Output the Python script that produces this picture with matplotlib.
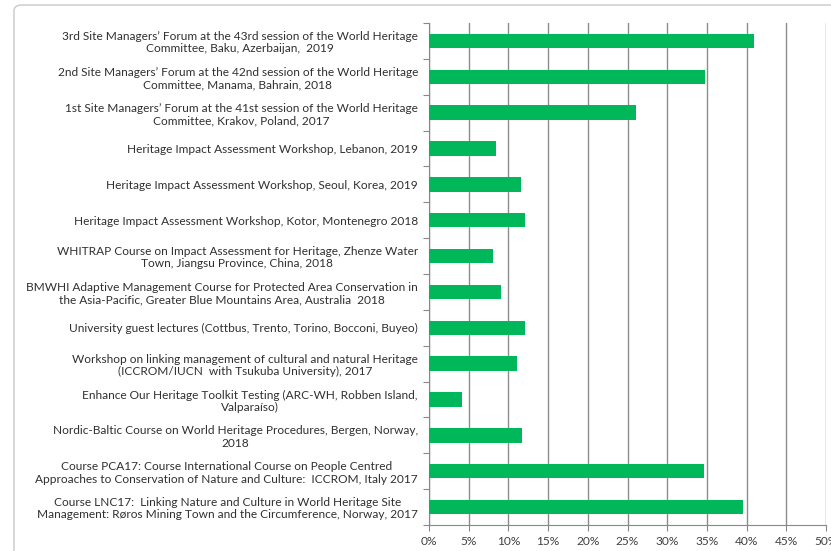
import matplotlib
matplotlib.use("Agg")
import matplotlib.pyplot as plt
from matplotlib.patches import FancyBboxPatch
from matplotlib.ticker import FuncFormatter, FixedLocator

categories = [
    "3rd Site Managers\u2019 Forum at the 43rd session of the World Heritage\nCommittee, Baku, Azerbaijan,  2019",
    "2nd Site Managers\u2019 Forum at the 42nd session of the World Heritage\nCommittee, Manama, Bahrain, 2018",
    "1st Site Managers\u2019 Forum at the 41st session of the World Heritage\nCommittee, Krakov, Poland, 2017",
    "Heritage Impact Assessment Workshop, Lebanon, 2019",
    "Heritage Impact Assessment Workshop, Seoul, Korea, 2019",
    "Heritage Impact Assessment Workshop, Kotor, Montenegro 2018",
    "WHITRAP Course on Impact Assessment for Heritage, Zhenze Water\nTown, Jiangsu Province, China, 2018",
    "BMWHI Adaptive Management Course for Protected Area Conservation in\nthe Asia-Pacific, Greater Blue Mountains Area, Australia  2018",
    "University guest lectures (Cottbus, Trento, Torino, Bocconi, Buyeo)",
    "Workshop on linking management of cultural and natural Heritage\n(ICCROM/IUCN  with Tsukuba University), 2017",
    "Enhance Our Heritage Toolkit Testing (ARC-WH, Robben Island,\nValpara\u00edso)",
    "Nordic-Baltic Course on World Heritage Procedures, Bergen, Norway,\n2018",
    "Course PCA17: Course International Course on People Centred\nApproaches to Conservation of Nature and Culture:  ICCROM, Italy 2017",
    "Course LNC17:  Linking Nature and Culture in World Heritage Site\nManagement: R\u00f8ros Mining Town and the Circumference, Norway, 2017",
]
values = [40.9, 34.7, 26.1, 8.4, 11.6, 12.1, 8.0, 9.1, 12.1, 11.1, 4.2, 11.7, 34.6, 39.5]
xticks = [0, 5, 10, 15, 20, 25, 30, 35, 40, 45, 50]

plt.rcParams['font.family'] = ['Lato', 'DejaVu Sans']

W, H = 831, 551
fig = plt.figure(figsize=(W / 100, H / 100), dpi=100)
fig.patch.set_facecolor('white')

# outer chart frame
frame = FancyBboxPatch((14 / W, -0.05), 1.2, 1.05 - 5 / H,
                       boxstyle="round,pad=0,rounding_size=0.01",
                       transform=fig.transFigure, facecolor='none',
                       edgecolor='#c8c8c8', linewidth=1.0, zorder=0)
fig.patches.append(frame)

left, right, top, bottom = 429, 826, 23, 525
ax = fig.add_axes([left / W, 1 - bottom / H, (right - left) / W, (bottom - top) / H])

n = len(categories)
ypos = list(range(n))
ax.barh(ypos, values, height=0.4, color='#00B85A', zorder=3)
ax.set_ylim(n - 0.5, -0.5)
ax.set_xlim(0, 50)

ax.set_yticks(ypos)
ax.set_yticklabels(categories, fontsize=8.6, color='#303030', multialignment='center',
                   linespacing=1.15)
ax.tick_params(axis='y', length=0, pad=8)
ax.yaxis.set_minor_locator(FixedLocator([i - 0.5 for i in range(n + 1)]))
ax.tick_params(axis='y', which='minor', length=4, color='#888888', width=0.8)

ax.xaxis.set_major_locator(FixedLocator(xticks))
ax.xaxis.set_major_formatter(FuncFormatter(lambda v, p: f"{int(v)}%"))
ax.tick_params(axis='x', length=4, color='#888888', width=0.8, labelsize=8.6,
               labelcolor='#404040', pad=4)

ax.grid(axis='x', color='#8c8c8c', linewidth=1.0, zorder=0)
for s in ['top', 'right']:
    ax.spines[s].set_visible(False)
for s in ['left', 'bottom']:
    ax.spines[s].set_color('#888888')
    ax.spines[s].set_linewidth(0.8)

fig.savefig('out.png', dpi=100)
